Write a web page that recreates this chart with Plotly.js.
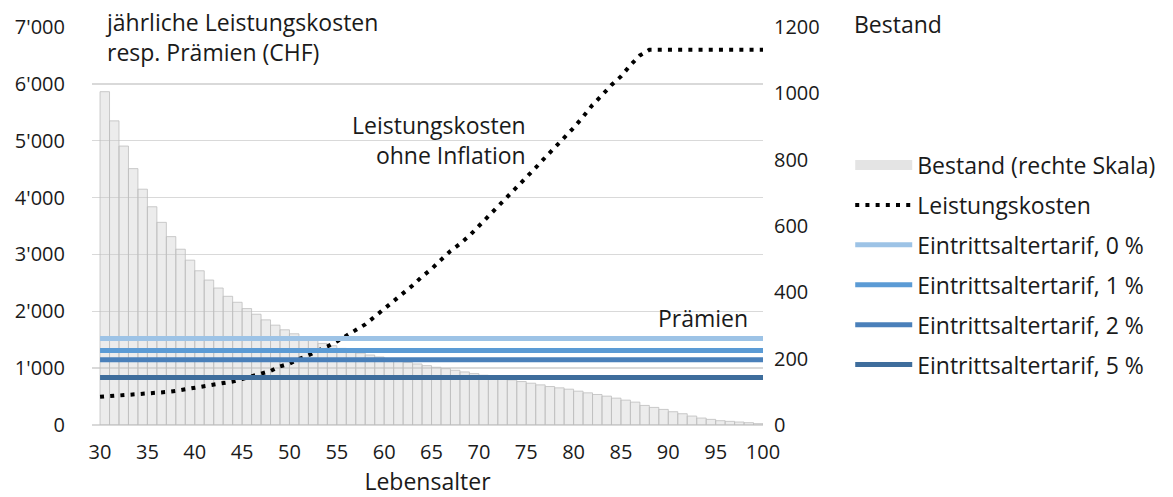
<!DOCTYPE html>
<html><head><meta charset="utf-8">
<script src="https://cdn.plot.ly/plotly-3.0.1.min.js"></script>
<style>body{margin:0;background:#fff}</style>
</head><body><div id="chart" style="width:1173px;height:497px"></div>
<script>
// Ages for the cost line and premium lines (30..100)
const ages = [30,31,32,33,34,35,36,37,38,39,40,41,42,43,44,45,46,47,48,49,50,51,52,53,54,55,56,57,58,59,60,61,62,63,64,65,66,67,68,69,70,71,72,73,74,75,76,77,78,79,80,81,82,83,84,85,86,87,88,89,90,91,92,93,94,95,96,97,98,99,100];
// jährliche Leistungskosten ohne Inflation (CHF)
const leistungskosten = [495,505,515,528,540,555,568,580,600,625,650,680,705,730,765,810,860,910,950,1030,1080,1160,1225,1310,1380,1470,1575,1665,1770,1905,2040,2195,2330,2455,2610,2745,2905,3060,3185,3330,3500,3670,3840,4000,4165,4345,4525,4705,4880,5035,5225,5420,5630,5800,5980,6130,6330,6500,6600,6600,6600,6600,6600,6600,6600,6600,6600,6600,6600,6600,6600];
// Bestand cohorts (age 30..99, each bar spans one year of age)
const bestandAges = [30,31,32,33,34,35,36,37,38,39,40,41,42,43,44,45,46,47,48,49,50,51,52,53,54,55,56,57,58,59,60,61,62,63,64,65,66,67,68,69,70,71,72,73,74,75,76,77,78,79,80,81,82,83,84,85,86,87,88,89,90,91,92,93,94,95,96,97,98,99];
const bestand = [1005,917,841,773,711,658,611,568,530,497,465,437,413,388,370,351,334,317,301,287,275,264,255,246,239,231,224,217,211,205,199,194,189,184,179,174,170,165,160,155,150,145,140,136,131,126,121,116,112,108,102,97,92,87,81,75,69,59,53,47,40,34,27,21,17,13,11,9,7,4];
// Premium tariffs (constant annual premium, CHF)
const tarifNames = ["Eintrittsaltertarif, 0 %","Eintrittsaltertarif, 1 %","Eintrittsaltertarif, 2 %","Eintrittsaltertarif, 5 %"];
const tarifValues = [1520,1310,1146,837];
const tarifSpan = [30,100];
const xTicks = [30,35,40,45,50,55,60,65,70,75,80,85,90,95,100];
const bestandName = "Bestand (rechte Skala)";
const titleText = "jährliche Leistungskosten<br>resp. Prämien (CHF)";
const costLabel = "Leistungskosten<br>ohne Inflation";

const tarifColors = ["#9dc3e6","#5b9bd5","#4a80ba","#3e6d9c"];
const FONT = "'Open Sans', 'Noto Sans', sans-serif";
const TXT = "#1a1a1a";
const TXTSIZE = 23, TICKSIZE = 20;

const traces = [];
traces.push({
  type:"bar", name:bestandName, x:bestandAges, y:bestand,
  offset:0, width:1, yaxis:"y", xaxis:"x", showlegend:false,
  marker:{color:"rgba(205,205,205,0.38)", line:{color:"rgba(190,190,190,0.8)", width:1}},
  hoverinfo:"skip"
});
// legend entry for the bars (wide swatch like the original)
traces.push({
  type:"scatter", mode:"lines", name:bestandName, x:[null], y:[null], yaxis:"y2",
  line:{color:"#e4e4e4", width:15}, legendgroup:"a", showlegend:true
});
traces.push({
  type:"scatter", mode:"lines", name:"Leistungskosten", x:ages, y:leistungskosten,
  yaxis:"y2", line:{color:"#000", width:4, dash:"4px,6.2px"}, legendgroup:"b"
});
tarifValues.forEach((v,i)=>{
  traces.push({
    type:"scatter", mode:"lines", name:tarifNames[i], x:tarifSpan, y:[v,v],
    yaxis:"y2", line:{color:tarifColors[i], width:5}, legendgroup:"c"+i
  });
});

function label(text, x, y, xanchor, align){
  return {text:text, xref:"paper", yref:"paper", x:x, y:y, xanchor:xanchor, yanchor:"middle",
          align:align || xanchor, showarrow:false, font:{size:TXTSIZE}};
}

const layout = {
  width:1173, height:497,
  margin:{l:92, r:410, t:27, b:72, pad:0},
  paper_bgcolor:"#fff", plot_bgcolor:"rgba(0,0,0,0)",
  font:{family:FONT, size:TXTSIZE, color:TXT},
  separators:".'",
  bargap:0,
  showlegend:true,
  legend:{x:1.130, y:0.707, xanchor:"left", yanchor:"top", traceorder:"grouped",
          tracegroupgap:7, itemwidth:57, font:{family:FONT, size:TXTSIZE, color:TXT},
          bgcolor:"rgba(0,0,0,0)"},
  xaxis:{range:[29.15,100], tickvals:xTicks, showgrid:false, zeroline:false, showline:false,
         ticks:"", ticklabelstandoff:13, tickfont:{size:TICKSIZE},
         title:{text:"Lebensalter", standoff:13, font:{size:TXTSIZE}}},
  yaxis:{range:[0,1200], dtick:200, side:"right", showgrid:false, zeroline:false,
         showline:false, ticks:"", tickformat:"d", ticklabelstandoff:10, tickfont:{size:TICKSIZE}},
  yaxis2:{range:[0,7000], dtick:1000, side:"left", overlaying:"y", showgrid:true,
          gridcolor:"#d9d9d9", gridwidth:1.5, zeroline:true, zerolinecolor:"#d9d9d9", zerolinewidth:1.5,
          showline:false, ticks:"", tickformat:",d", ticklabelstandoff:26, tickfont:{size:TICKSIZE}},
  shapes:[
    {type:"rect", xref:"paper", yref:"paper", x0:0.014, x1:0.456, y0:0.93, y1:1.01,
     fillcolor:"#fff", line:{width:0}, layer:"above"}
  ],
  annotations:[
    label(titleText, 0.0164, 0.976, "left"),
    label(costLabel, 0.6498, 0.717, "right"),
    label("Prämien", 0.9806, 0.2688, "right"),
    label("Bestand", 1.1326, 1.0075, "left")
  ]
};

Plotly.newPlot("chart", traces, layout, {displayModeBar:false, staticPlot:true});
</script>
</body></html>
